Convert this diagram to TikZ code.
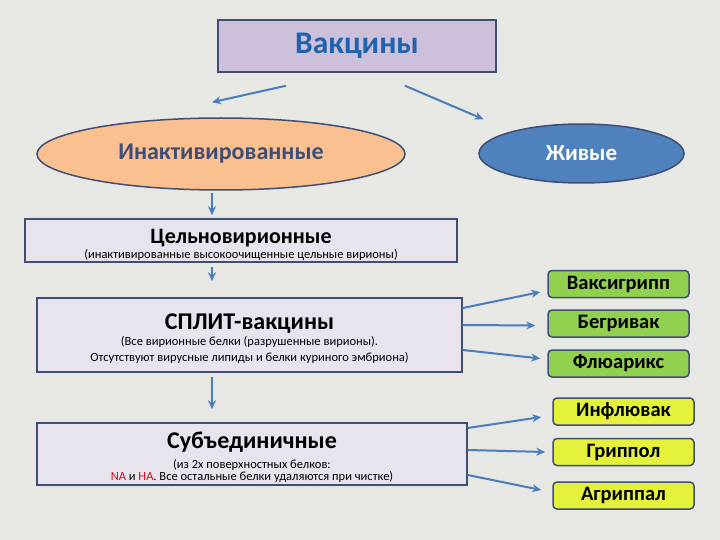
\documentclass[tikz,border=0pt]{standalone}
\usepackage{fontspec}
\setmainfont{Carlito}
\usepackage{xcolor}
\usetikzlibrary{arrows.meta, shapes.geometric}

\definecolor{bgcol}{HTML}{E7E7E4}
\definecolor{framecol}{HTML}{3F4E74}
\definecolor{lavcol}{HTML}{CCC0DA}
\definecolor{palecol}{HTML}{E8E4EE}
\definecolor{peachcol}{HTML}{FAC090}
\definecolor{bluecol}{HTML}{4F81BD}
\definecolor{titlecol}{HTML}{1F63AE}
\definecolor{arrcol}{HTML}{4A7EBB}
\definecolor{greencol}{HTML}{92D050}
\definecolor{yellowcol}{HTML}{E4F23C}
\definecolor{nacol}{HTML}{D0101A}

\newcommand{\smalltxt}{\fontsize{12.5}{15.5}\selectfont}
\newcommand{\headtxt}{\fontsize{24}{26}\selectfont\bfseries}
% lower one line of a box without changing its size
\newcommand{\lowtxt}[2]{\raisebox{-#1}[\height][\depth]{#2}}

\begin{document}
\begin{tikzpicture}[
    x=1pt, y=-1pt,
    box/.style     = {rectangle, draw=framecol, line width=1.5pt, fill=palecol,
                      inner sep=0pt, align=center, font=\smalltxt},
    oval/.style    = {ellipse, draw=framecol, line width=1.5pt, inner sep=0pt},
    brand/.style   = {rectangle, rounded corners=4pt, draw=framecol, line width=1.5pt,
                      minimum width=141pt, minimum height=27pt, inner sep=0pt,
                      font=\fontsize{20.5}{22}\selectfont\bfseries},
    arrow/.style   = {-{Stealth[length=9pt, width=8pt]}, line width=2pt, draw=arrcol}
]
\fill[bgcol] (0,0) rectangle (720,540);

\node[box, fill=lavcol, minimum width=278pt, minimum height=52pt,
      font=\fontsize{31.5}{33}\selectfont\bfseries, text=titlecol] (vac) at (357,46) {Вакцины};
\node[oval, fill=peachcol, minimum width=368pt, minimum height=72pt,
      font=\fontsize{24}{26}\selectfont\bfseries, text=framecol] (inact) at (221,154) {Инактивированные};
\node[oval, fill=bluecol, minimum width=205pt, minimum height=59pt,
      font=\fontsize{23}{25}\selectfont\bfseries, text=white] (live) at (581.5,153.5) {Живые};

\node[box, minimum width=432pt, minimum height=43pt] (whole) at (241,240.5)
    {\lowtxt{4.5pt}{\fontsize{22}{24}\selectfont\bfseries Цельновирионные}\\
     \lowtxt{4.5pt}{(инактивированные высокоочищенные цельные вирионы)}};
\node[box, minimum width=425pt, minimum height=74pt] (split) at (249.5,335)
    {\lowtxt{4pt}{\headtxt СПЛИТ-вакцины}\\[1pt]
     \lowtxt{3.5pt}{(Все вирионные белки (разрушенные вирионы).}\\
     \lowtxt{3.5pt}{Отсутствуют вирусные липиды и белки  куриного эмбриона)}};
\node[box, minimum width=430pt, minimum height=62pt] (subunit) at (252,454)
    {\lowtxt{2pt}{\headtxt Субъединичные}\\[1pt]
     \lowtxt{5pt}{(из 2х поверхностных белков:}\\[-3pt]
     \lowtxt{5pt}{\textcolor{nacol}{NA} и \textcolor{nacol}{HA}. Все остальные белки удаляются при чистке)}};

\node[brand, fill=greencol]  (vaxi)  at (618.5,284)   {Ваксигрипп};
\node[brand, fill=greencol]  (begri) at (618.5,323.5) {Бегривак};
\node[brand, fill=greencol]  (fluar) at (618.5,363.5) {Флюарикс};
\node[brand, fill=yellowcol] (influ) at (623.5,411.5) {Инфлювак};
\node[brand, fill=yellowcol] (gripp) at (623.5,452)   {Гриппол};
\node[brand, fill=yellowcol] (agrip) at (623.5,495.5) {Агриппал};

\coordinate (axis) at (212,0);

\draw[arrow] ([xshift=-71pt, yshift=-13pt]vac.south) -- ([xshift=-9pt, yshift=15pt]inact.north);
\draw[arrow] ([xshift=48pt, yshift=-13pt]vac.south) -- ([xshift=-98pt, yshift=4pt]live.north);
\draw[arrow] ([yshift=-2pt]inact.south -| axis) -- ([yshift=3pt]whole.north -| axis);
\draw[arrow] ([yshift=-4pt]whole.south -| axis) -- ([yshift=16pt]split.north -| axis);
\draw[arrow] ([yshift=-4pt]split.south -| axis) -- ([yshift=13pt]subunit.north -| axis);

\draw[arrow] ([yshift=27pt]split.east)  -- ([xshift=-7pt, yshift=-8pt]vaxi.west);
\draw[arrow] ([yshift=10pt]split.east)  -- ([xshift=-12pt, yshift=-2pt]begri.west);
\draw[arrow] ([yshift=-15pt]split.east) -- ([xshift=-7pt, yshift=5pt]fluar.west);
\draw[arrow] ([yshift=26pt]subunit.east)  -- ([xshift=-11pt, yshift=-5.5pt]influ.west);
\draw[arrow] ([yshift=4pt]subunit.east)   -- ([xshift=-7pt]gripp.west);
\draw[arrow] ([yshift=-21pt]subunit.east) -- ([xshift=-11pt, yshift=5.5pt]agrip.west);
\end{tikzpicture}
\end{document}
